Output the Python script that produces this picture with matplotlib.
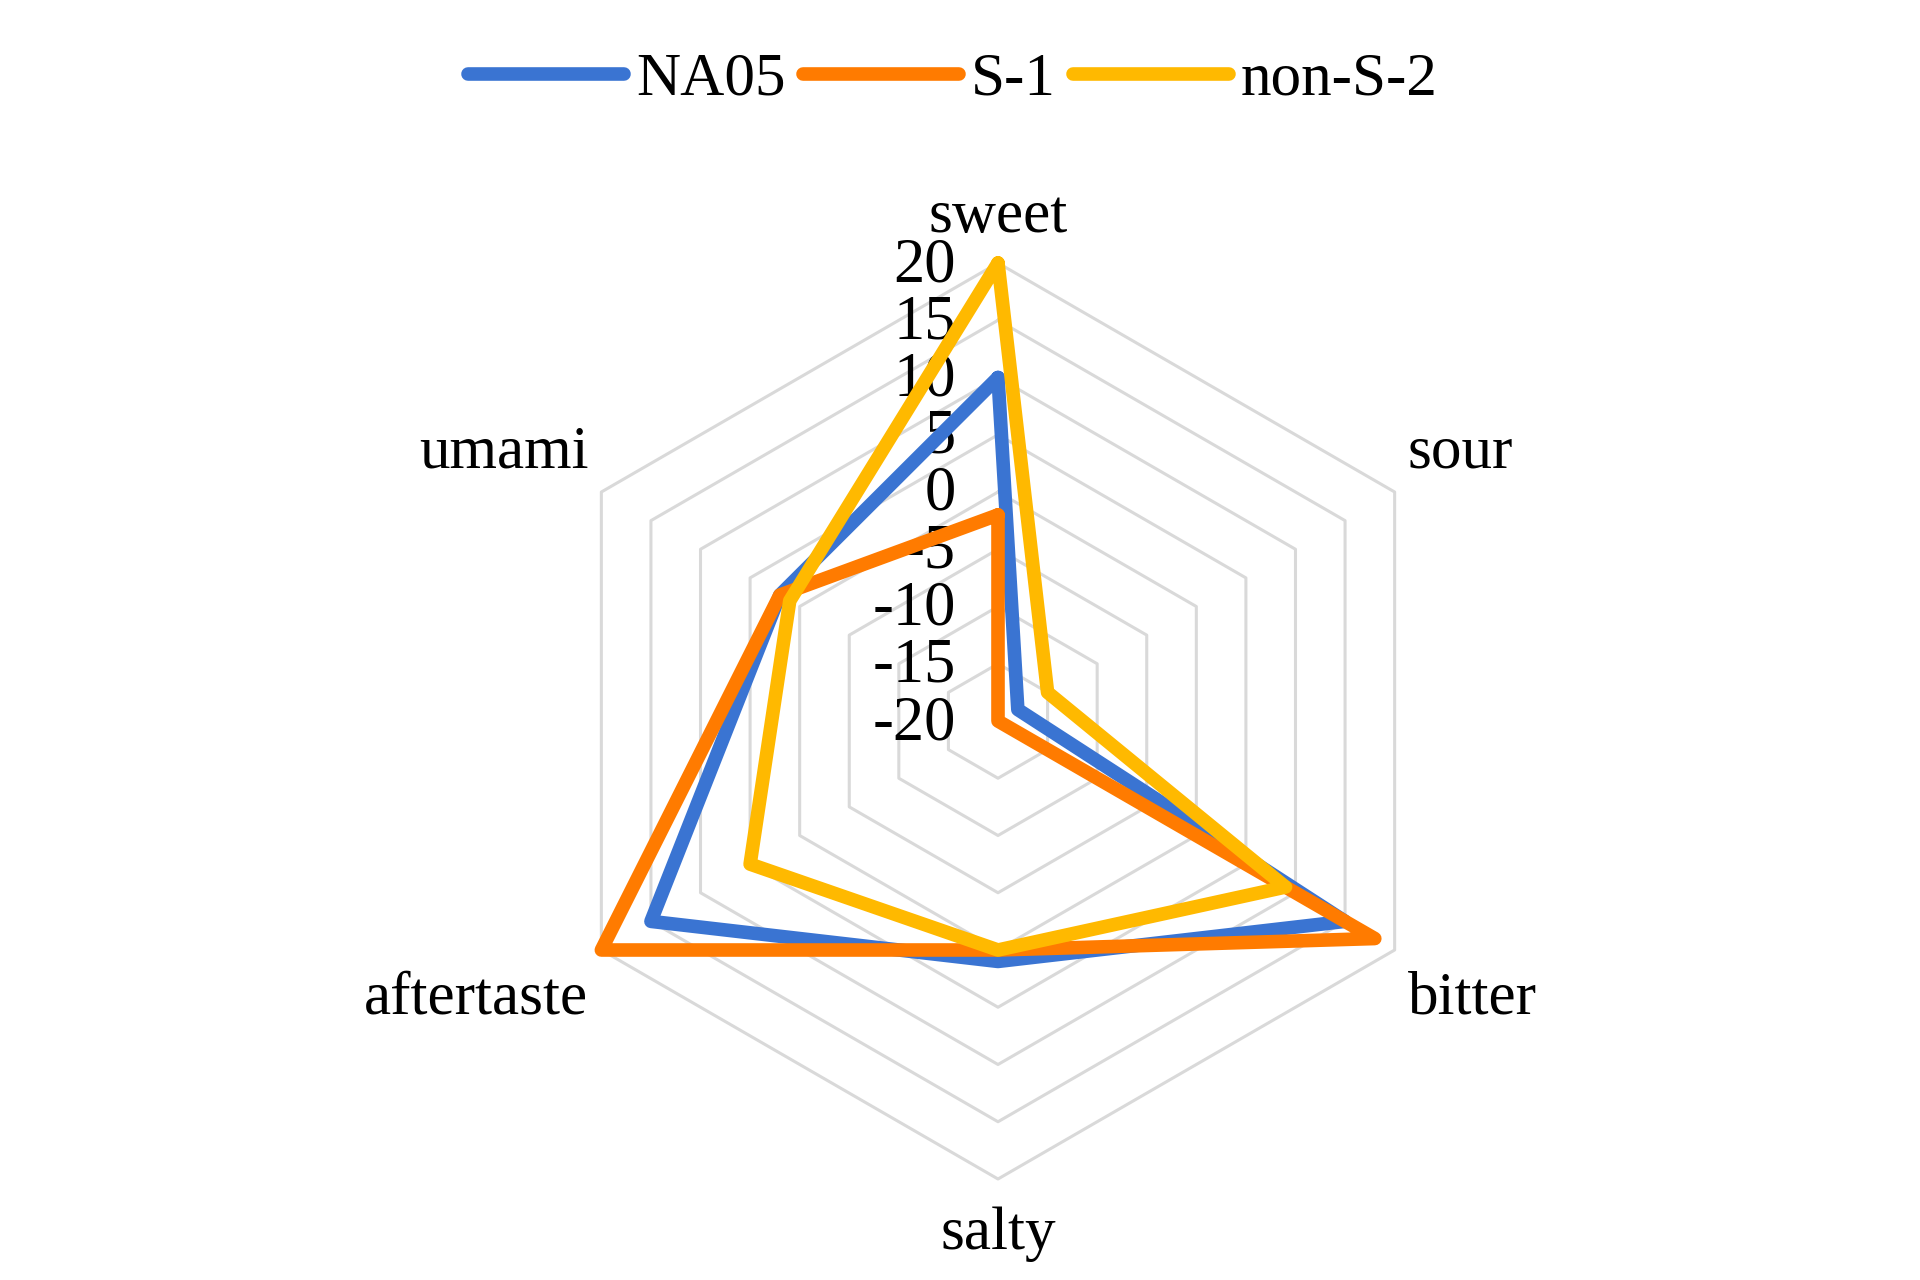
import matplotlib
matplotlib.use("Agg")
import matplotlib.pyplot as plt
from matplotlib.transforms import offset_copy
import numpy as np

plt.rcParams['font.family'] = ['Liberation Serif', 'DejaVu Serif']

# radar data (clockwise from top)
categories = ['sweet', 'sour', 'bitter', 'salty', 'aftertaste', 'umami']
na05 = [10, -18, 15, 1, 15, 2]
s1 = [-2, -20, 18, 0, 20, 2]
non_s2 = [20, -15, 9, 0, 5, 1]
series_names = ['NA05', 'S-1', 'non-S-2']
colors = ['#3A74D2', '#FF7B00', '#FFB900']
r_ticks = [-20, -15, -10, -5, 0, 5, 10, 15, 20]

W, H = 1920, 1280
fig = plt.figure(figsize=(W / 100, H / 100), dpi=100)

# centre (998, 721) px, radius 458 px
cx, cy, R = 998, 721, 458
ax = fig.add_axes([(cx - R) / W, (H - cy - R) / H, 2 * R / W, 2 * R / H],
                  projection='polar')
ax.set_theta_zero_location('N')
ax.set_theta_direction(-1)
ax.set_ylim(-20, 20)
ax.grid(False)
ax.spines['polar'].set_visible(False)
ax.set_xticks([])
ax.set_yticks([])
ax.patch.set_alpha(0)

theta = np.deg2rad(np.arange(len(categories)) * 360 / len(categories))
theta_c = np.append(theta, theta[0])

# hexagonal grid rings
for r in r_ticks[1:]:
    ax.plot(theta_c, [r] * len(theta_c), color='#D9D9D9', lw=2.2, zorder=1,
            clip_on=False)

for vals, name, col in zip([na05, s1, non_s2], series_names, colors):
    ax.plot(theta_c, vals + vals[:1], color=col, lw=9.8, label=name,
            solid_joinstyle='round', solid_capstyle='round', zorder=3,
            clip_on=False)

# radial tick labels
tick_tr = offset_copy(ax.transData, fig=fig, x=-42, y=-3, units='dots')
for r in r_ticks:
    ax.text(0, r, f'{r}', transform=tick_tr, ha='right', va='center',
            fontsize=45, zorder=2)

# category labels
label_pos = [
    (0, 31, 'center', 'baseline'),
    (13, 24, 'left', 'baseline'),
    (13, -21, 'left', 'top'),
    (0, -28, 'center', 'top'),
    (-13, -21, 'right', 'top'),
    (-13, 24, 'right', 'baseline'),
]
for t, cat, (dx, dy, ha, va) in zip(theta, categories, label_pos):
    tr = offset_copy(ax.transData, fig=fig, x=dx, y=dy, units='dots')
    ax.text(t, 20, cat, transform=tr, ha=ha, va=va, fontsize=44)

leg = fig.legend(loc='center', bbox_to_anchor=(953 / W, 1 - 80 / H), ncol=3,
                 frameon=False, fontsize=44, handlelength=2.55,
                 handletextpad=0.2, columnspacing=0.28, borderaxespad=0)

fig.savefig('out.png', dpi=100, facecolor='white')
